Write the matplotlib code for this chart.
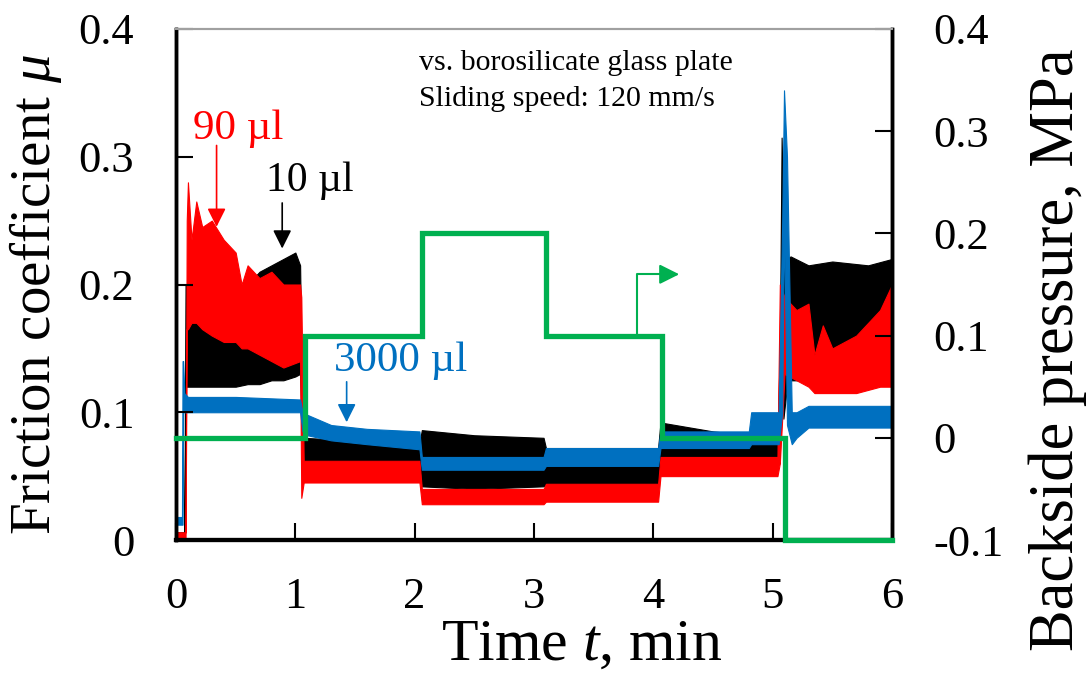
import matplotlib
matplotlib.use("Agg")
import matplotlib.pyplot as plt
from matplotlib.ticker import FuncFormatter

plt.rcParams['font.family'] = ['Liberation Serif', 'DejaVu Serif']
plt.rcParams['mathtext.fontset'] = 'custom'
plt.rcParams['mathtext.rm'] = 'Liberation Serif'
plt.rcParams['mathtext.it'] = 'Liberation Serif:italic'
plt.rcParams['axes.unicode_minus'] = False

# friction coefficient bands (lower / upper envelope), time in min
t_10 = [0.0, 0.07, 0.08, 0.3, 0.5, 0.6, 0.7, 0.8, 0.9, 1.0, 1.04, 1.06, 1.5, 2.04, 2.06, 2.5, 3.08, 3.10,
        4.04, 4.06, 4.5, 5.04, 5.06, 5.075, 5.09, 5.12, 5.15, 5.3, 5.5, 5.8, 6.0]
lo_10 = [0.0, 0.0, 0.12, 0.12, 0.12, 0.122, 0.122, 0.125, 0.125, 0.128, 0.13, 0.06, 0.06, 0.06, 0.042, 0.04, 0.042, 0.044,
         0.044, 0.06, 0.06, 0.06, 0.06, 0.2, 0.095, 0.12, 0.125, 0.125, 0.13, 0.128, 0.13]
hi_10 = [0.006, 0.006, 0.2, 0.19, 0.19, 0.2, 0.21, 0.215, 0.22, 0.225, 0.215, 0.08, 0.078, 0.076, 0.086, 0.082, 0.08, 0.072,
         0.072, 0.092, 0.085, 0.08, 0.15, 0.315, 0.25, 0.22, 0.222, 0.215, 0.218, 0.215, 0.22]

t_90 = [0.0, 0.08, 0.09, 0.1, 0.13, 0.17, 0.22, 0.3, 0.4, 0.5, 0.55, 0.6, 0.7, 0.8, 0.9, 1.04, 1.05, 1.07, 1.5,
        2.04, 2.06, 3.08, 3.10, 4.04, 4.06, 5.0, 5.04, 5.06, 5.1, 5.2, 5.3, 5.35, 5.42, 5.5, 5.7, 5.9, 6.0]
lo_90 = [0.0, 0.0, 0.165, 0.165, 0.17, 0.17, 0.165, 0.16, 0.155, 0.155, 0.15, 0.15, 0.145, 0.14, 0.135, 0.14, 0.033, 0.045, 0.045,
         0.045, 0.028, 0.028, 0.03, 0.03, 0.05, 0.05, 0.05, 0.06, 0.13, 0.125, 0.12, 0.115, 0.115, 0.115, 0.115, 0.12, 0.12]
hi_90 = [0.006, 0.006, 0.25, 0.28, 0.235, 0.265, 0.245, 0.25, 0.235, 0.225, 0.2, 0.215, 0.205, 0.21, 0.2, 0.2, 0.19, 0.062, 0.062,
         0.062, 0.04, 0.04, 0.044, 0.044, 0.065, 0.065, 0.065, 0.2, 0.19, 0.18, 0.185, 0.145, 0.168, 0.15, 0.16, 0.18, 0.2]

t_3000 = [0.0, 0.05, 0.055, 0.06, 0.07, 0.1, 0.5, 1.04, 1.06, 1.1, 1.3, 1.6, 2.04, 2.06, 3.08, 3.10,
          4.04, 4.06, 4.8, 4.82, 5.05, 5.08, 5.095, 5.12, 5.16, 5.2, 5.3, 6.0]
lo_3000 = [0.012, 0.012, 0.012, 0.1, 0.1, 0.1, 0.1, 0.1, 0.085, 0.082, 0.078, 0.075, 0.071, 0.055, 0.055, 0.058,
           0.058, 0.072, 0.072, 0.075, 0.075, 0.1, 0.25, 0.09, 0.075, 0.08, 0.088, 0.088]
hi_3000 = [0.018, 0.018, 0.14, 0.14, 0.115, 0.112, 0.112, 0.11, 0.1, 0.098, 0.09, 0.087, 0.085, 0.065, 0.065, 0.072,
           0.072, 0.085, 0.085, 0.1, 0.1, 0.25, 0.352, 0.3, 0.1, 0.1, 0.105, 0.105]

# backside pressure, MPa
t_p = [0, 1.08, 1.08, 2.06, 2.06, 3.1, 3.1, 4.07, 4.07, 5.1, 5.1, 6.0]
p = [0, 0, 0.1, 0.1, 0.2, 0.2, 0.1, 0.1, 0, 0, -0.1, -0.1]

fig = plt.figure(figsize=(10.87, 6.79), dpi=100)
ax = fig.add_axes([176/1087, 139/679, 716/1087, 511/679])
ax.set_xlim(0, 6)
ax.set_ylim(0, 0.4)

ax.fill_between(t_10, lo_10, hi_10, color='black', lw=0.8, edgecolor='black')
ax.fill_between(t_90, lo_90, hi_90, color='#ff0000', lw=0.8, edgecolor='#ff0000')
ax.fill_between(t_3000, lo_3000, hi_3000, color='#0070c0', lw=0.8, edgecolor='#0070c0')

ax2 = ax.twinx()
ax2.set_ylim(-0.1, 0.4)
ax2.plot(t_p, p, color='#00b050', lw=3.8, solid_joinstyle='miter', zorder=3, clip_on=False)
ax2.plot([3.86, 3.86, 4.1], [0.1, 0.16, 0.16], color='#00b050', lw=1.5)
ax2.annotate('', xy=(4.24, 0.16), xytext=(4.08, 0.16),
             arrowprops=dict(arrowstyle='-|>', color='#00b050', lw=1.5, mutation_scale=30))

# labels on curves
ax.text(0.52, 0.322, '90 µl', color='#ff0000', fontsize=31, ha='center', va='center')
ax.annotate('', xy=(0.34, 0.243), xytext=(0.34, 0.311),
            arrowprops=dict(arrowstyle='-|>', color='#ff0000', lw=1.2, mutation_scale=28))
ax.text(1.12, 0.281, '10 µl', color='black', fontsize=30, ha='center', va='center')
ax.annotate('', xy=(0.89, 0.226), xytext=(0.89, 0.266),
            arrowprops=dict(arrowstyle='-|>', color='black', lw=1.2, mutation_scale=28))
ax.text(1.88, 0.14, '3000 µl', color='#0070c0', fontsize=31, ha='center', va='center')
ax.annotate('', xy=(1.43, 0.09), xytext=(1.43, 0.126),
            arrowprops=dict(arrowstyle='-|>', color='#0070c0', lw=1.2, mutation_scale=28))

ax.text(2.04, 0.373, 'vs. borosilicate glass plate', fontsize=21.5, ha='left', va='center')
ax.text(2.04, 0.345, 'Sliding speed: 120 mm/s', fontsize=21.5, ha='left', va='center')

fmt = FuncFormatter(lambda v, pos: '0' if abs(v) < 1e-9 else ('%.1f' % v))
ax.set_yticks([0, 0.1, 0.2, 0.3, 0.4])
ax.yaxis.set_major_formatter(fmt)
ax2.set_yticks([-0.1, 0, 0.1, 0.2, 0.3, 0.4])
ax2.yaxis.set_major_formatter(fmt)
ax.set_xticks(range(7))

ax.tick_params(axis='both', direction='in', length=12, width=1.5, labelsize=32)
ax.tick_params(axis='y', right=False, pad=30)
ax.tick_params(axis='x', top=False, pad=27)
ax2.tick_params(axis='y', direction='in', length=12, width=1.5, labelsize=32, pad=30)

ax.set_xlabel('Time $t$, min', fontsize=43)
ax.xaxis.set_label_coords((582 - 176) / 716, -0.155)
ax.set_ylabel('Friction coefficient $\\mu$', fontsize=41)
ax.yaxis.set_label_coords(-0.157, 0.48)
ax2.set_ylabel('Backside pressure, MPa', fontsize=45)
ax2.yaxis.set_label_coords(1.19, 0.372)

for a in (ax, ax2):
    a.spines['top'].set_color('#a0a0a0')
    a.spines['top'].set_linewidth(1.5)
    a.spines['left'].set_linewidth(2.5)
    a.spines['right'].set_linewidth(2.5)
    a.spines['bottom'].set_linewidth(3)

fig.savefig('out.png', dpi=100)
